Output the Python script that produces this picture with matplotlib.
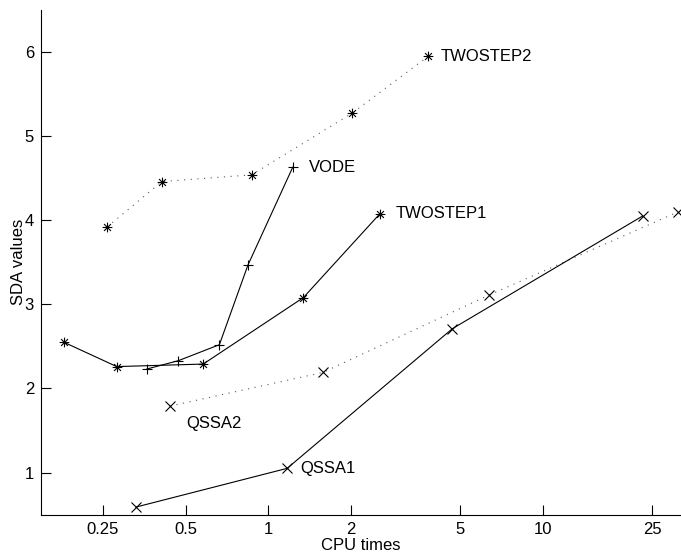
import matplotlib
matplotlib.use("Agg")
import matplotlib.pyplot as plt
from matplotlib.path import Path
import numpy as np

plt.rcParams['font.family'] = ['Liberation Sans', 'DejaVu Sans']

# Data (CPU time, SDA value)
twostep2_x = [0.259, 0.409, 0.869, 2.01, 3.82]
twostep2_y = [3.92, 4.46, 4.54, 5.27, 5.95]
vode_x = [0.360, 0.470, 0.663, 0.843, 1.226]
vode_y = [2.23, 2.33, 2.52, 3.47, 4.63]
twostep1_x = [0.180, 0.2805, 0.579, 1.34, 2.55]
twostep1_y = [2.55, 2.26, 2.29, 3.08, 4.08]
qssa2_x = [0.438, 1.578, 6.35, 31.0]
qssa2_y = [1.79, 2.19, 3.11, 4.10]
qssa1_x = [0.330, 1.17, 4.67, 23.0]
qssa1_y = [0.59, 1.05, 2.71, 4.05]

xticks = [0.25, 0.5, 1, 2, 5, 10, 25]
xticklabels = ['0.25', '0.5', '1', '2', '5', '10', '25']
yticks = [1, 2, 3, 4, 5, 6]

# asterisk marker (+ and x combined)
d = 0.7071
ast = Path([(-1, 0), (1, 0), (0, -1), (0, 1), (-d, -d), (d, d), (-d, d), (d, -d)],
           [Path.MOVETO, Path.LINETO] * 4)

fig = plt.figure(figsize=(6.81, 5.55), dpi=100)
ax = fig.add_axes([41/681, 40.4/555, 1 - 41/681, 504.6/555])

lw = 0.8
dot = (0, (1, 5))
ms = 7
ax.plot(twostep2_x, twostep2_y, color='0.35', linestyle=dot, linewidth=lw)
ax.plot(twostep2_x, twostep2_y, linestyle='none', marker=ast, color='k', markersize=ms, markeredgewidth=lw)
ax.plot(vode_x, vode_y, color='k', linestyle='-', linewidth=lw, marker='+', markersize=ms, markeredgewidth=lw)
ax.plot(twostep1_x, twostep1_y, color='k', linestyle='-', linewidth=lw, marker=ast, markersize=ms, markeredgewidth=lw)
ax.plot(qssa2_x, qssa2_y, color='0.35', linestyle=dot, linewidth=lw, clip_on=False)
ax.plot(qssa2_x, qssa2_y, linestyle='none', marker='x', color='k', markersize=ms, markeredgewidth=lw, clip_on=False)
ax.plot(qssa1_x, qssa1_y, color='k', linestyle='-', linewidth=lw, marker='x', markersize=ms, markeredgewidth=lw)

fs = 12
def lab(x, y, s, dx, dy):
    ax.annotate(s, (x, y), xytext=(dx, dy), textcoords='offset pixels',
                ha='left', va='center', fontsize=fs)

lab(twostep2_x[-1], twostep2_y[-1], 'TWOSTEP2', 12, 0)
lab(vode_x[-1], vode_y[-1], 'VODE', 16, 0)
lab(twostep1_x[-1], twostep1_y[-1], 'TWOSTEP1', 16, 0)
lab(qssa1_x[1], qssa1_y[1], 'QSSA1', 13, 0)
lab(qssa2_x[0], qssa2_y[0], 'QSSA2', 16, -17)

ax.set_xscale('log')
ax.set_xlim(10**-0.8277, 10**1.5017)
ax.set_ylim(0.5, 6.5)
ax.set_xticks(xticks)
ax.set_xticklabels(xticklabels)
ax.minorticks_off()
ax.set_yticks(yticks)
ax.tick_params(direction='in', length=7, width=0.8, labelsize=fs, pad=5)
for s in ['top', 'right']:
    ax.spines[s].set_visible(False)
for s in ['left', 'bottom']:
    ax.spines[s].set_linewidth(0.8)
ax.set_xlabel('CPU times', fontsize=fs, labelpad=1)
ax.set_ylabel('SDA values', fontsize=fs, labelpad=-1)

fig.savefig('out.png', dpi=100)
